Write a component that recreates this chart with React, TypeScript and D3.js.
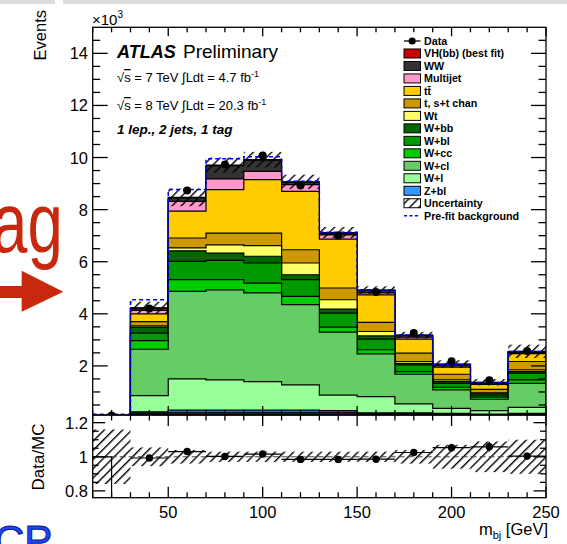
import React from "react";
import * as d3 from "d3";

// bins in m_bj [GeV]; the first bin (10-30) has no MC prediction
const binEdges = [10, 30, 50, 70, 90, 110, 130, 150, 170, 190, 210, 230, 250];

// stacked yields, in units of 10^3 events, bottom to top
const otherBkg = [0, 0.2, 0.22, 0.22, 0.22, 0.22, 0.22, 0.17, 0.17, 0.15, 0.12, 0.15];
const zbl = [0, 0.04, 0.08, 0.08, 0.08, 0.08, 0.06, 0.03, 0.03, 0.03, 0.03, 0.03];
const wl = [0, 0.62, 1.2, 1.16, 1.1, 0.97, 0.6, 0.62, 0.34, 0.19, 0.13, 0.23];
const wcl = [0, 1.78, 3.36, 3.46, 3.4, 3.08, 2.42, 1.64, 1.14, 0.71, 0.44, 0.92];
const wcc = [0, 0.33, 0.45, 0.39, 0.38, 0.32, 0.19, 0.16, 0.1, 0.1, 0.08, 0.13];
const wbl = [0, 0.29, 0.7, 0.74, 0.77, 0.64, 0.54, 0.41, 0.26, 0.15, 0.08, 0.26];
const wbb = [0, 0.23, 0.41, 0.28, 0.26, 0.19, 0.15, 0.12, 0.06, 0.07, 0.07, 0.06];
const wt = [0, 0.05, 0.11, 0.32, 0.41, 0.45, 0.36, 0.17, 0.07, 0.06, 0.02, 0.07];
const singleTop = [0, 0.16, 0.38, 0.45, 0.48, 0.51, 0.45, 0.35, 0.32, 0.22, 0.13, 0.32];
const ttbar = [0, 0.3, 1.03, 1.67, 2.05, 2.24, 1.88, 1.06, 0.54, 0.27, 0.19, 0.3];
const multijet = [0, 0.13, 0.38, 0.41, 0.32, 0.26, 0.16, 0.07, 0.07, 0.05, 0.03, 0.04];
const ww = [0, 0.09, 0.13, 0.51, 0.43, 0.09, 0.07, 0.1, 0.07, 0.06, 0.04, 0.04];
const vhbb = [0, 0.01, 0.02, 0.02, 0.02, 0.02, 0.02, 0.01, 0.01, 0.01, 0.01, 0.01];

const dataYield = [0.1, 4.2, 8.73, 9.73, 10.08, 8.93, 7.01, 4.84, 3.26, 2.18, 1.45, 2.57];
const preFitBkg = [0, 4.54, 8.77, 9.95, 10.03, 9.09, 7.13, 4.92, 3.19, 2.04, 1.36, 2.55];
const relUncertainty = [0.16, 0.055, 0.04, 0.03, 0.03, 0.03, 0.03, 0.03, 0.04, 0.07, 0.09, 0.1];

const processes = [
  { key: "other", values: otherBkg, color: "#222222" },
  { key: "Z+bl", values: zbl, color: "#3399ff" },
  { key: "W+l", values: wl, color: "#99ff99" },
  { key: "W+cl", values: wcl, color: "#66cc66" },
  { key: "W+cc", values: wcc, color: "#00cc00" },
  { key: "W+bl", values: wbl, color: "#009900" },
  { key: "W+bb", values: wbb, color: "#006600" },
  { key: "Wt", values: wt, color: "#ffff66" },
  { key: "t, s+t chan", values: singleTop, color: "#cc9900" },
  { key: "tt\u0304", values: ttbar, color: "#ffcc00" },
  { key: "Multijet", values: multijet, color: "#ff99cc" },
  { key: "WW", values: ww, color: "#333333" },
  { key: "VH(bb) (best fit)", values: vhbb, color: "#cc0000" },
];

const legendOrder = [
  "Data", "VH(bb) (best fit)", "WW", "Multijet", "tt\u0304", "t, s+t chan", "Wt",
  "W+bb", "W+bl", "W+cc", "W+cl", "W+l", "Z+bl", "Uncertainty", "Pre-fit background",
];

const FONT = "'Liberation Sans', Arial, Helvetica, sans-serif";
const L = 92.7, R = 546, T = 27.3, MB = 415, RB = 497.7;

const x = d3.scaleLinear().domain([10, 250]).range([L, R]);
const y = d3.scaleLinear().domain([0.115, 15]).range([MB, T]);
const yr = d3.scaleLinear().domain([0.76, 1.245]).range([RB, MB]);

const nBins = binEdges.length - 1;
const centers = d3.range(nBins).map((i) => (binEdges[i] + binEdges[i + 1]) / 2);
const table = d3.range(nBins).map((i) => {
  const row: Record<string, number> = {};
  processes.forEach((p) => (row[p.key] = p.values[i]));
  return row;
});
const stacked = d3.stack<Record<string, number>>().keys(processes.map((p) => p.key))(table);
const totals = stacked[stacked.length - 1].map((d) => d[1]);

const stepPoints = (vals: number[]) => binEdges.map((e, i) => ({ e, v: vals[Math.min(i, nBins - 1)] }));
const stepArea = d3
  .area<{ e: number; v: number }>()
  .x((d) => x(d.e))
  .y0(y(0))
  .y1((d) => y(d.v))
  .curve(d3.curveStepAfter);
const stepLine = d3
  .line<{ e: number; v: number }>()
  .x((d) => x(d.e))
  .y((d) => y(Math.max(d.v, 0.14)))
  .curve(d3.curveStepAfter);

const yMajor = y.ticks(8);
const yMinor = d3.range(1, 31).map((k) => k * 0.5).filter((v) => v < 15 && !yMajor.includes(v));
const xMajor = x.ticks(5);
const xMinor = d3.range(10, 251, 10).filter((v) => !xMajor.includes(v));
const rMajor = yr.ticks(3);
const rMinor = d3.range(16, 25).map((k) => +(k * 0.05).toFixed(2)).filter((v) => !rMajor.some((m) => Math.abs(m - v) < 1e-6));

const xMajLenOf = (top: number) => (top < MB - 1 ? 9 : 11);
const xMinLenOf = (top: number) => (top < MB - 1 ? 5 : 5.5);

const Frame = ({ top, bottom, xMaj, xMin, yMaj, yMin, ys, yMajLen, yMinLen }: any) => (
  <g stroke="#000" strokeWidth={1.3}>
    <rect x={L} y={top} width={R - L} height={bottom - top} fill="none" />
    {xMaj.map((v: number) => (
      <g key={"xM" + v}>
        <line x1={x(v)} x2={x(v)} y1={bottom} y2={bottom - xMajLenOf(top)} />
        <line x1={x(v)} x2={x(v)} y1={top} y2={top + xMajLenOf(top)} />
      </g>
    ))}
    {xMin.map((v: number) => (
      <g key={"xm" + v}>
        <line x1={x(v)} x2={x(v)} y1={bottom} y2={bottom - xMinLenOf(top)} />
        <line x1={x(v)} x2={x(v)} y1={top} y2={top + xMinLenOf(top)} />
      </g>
    ))}
    {yMaj.map((v: number) => (
      <g key={"yM" + v}>
        <line x1={L} x2={L + yMajLen} y1={ys(v)} y2={ys(v)} />
        <line x1={R} x2={R - yMajLen} y1={ys(v)} y2={ys(v)} />
      </g>
    ))}
    {yMin.map((v: number) => (
      <g key={"ym" + v}>
        <line x1={L} x2={L + yMinLen} y1={ys(v)} y2={ys(v)} />
        <line x1={R} x2={R - yMinLen} y1={ys(v)} y2={ys(v)} />
      </g>
    ))}
  </g>
);

export default function App() {
  const rowY = (i: number) => 41 + i * 12.48;
  const procByKey: Record<string, any> = {};
  processes.forEach((p) => (procByKey[p.key] = p));

  return (
    <svg width={567} height={544} style={{ position: "absolute", left: 0, top: 0, background: "#fff" }} fontFamily={FONT}>
      <defs>
        <pattern id="hatch" patternUnits="userSpaceOnUse" width={6.5} height={6.5} patternTransform="rotate(45)">
          <line x1={0.7} y1={0} x2={0.7} y2={6.5} stroke="#000" strokeWidth={1.4} />
        </pattern>
        <clipPath id="mainClip">
          <rect x={L} y={T} width={R - L} height={MB - T} />
        </clipPath>
        <clipPath id="ratioClip">
          <rect x={L} y={MB} width={R - L} height={RB - MB} />
        </clipPath>
      </defs>

      {/* slide remnants around the figure */}
      <rect x={0} y={0} width={55} height={4} fill="#dcdcdc" />
      <rect x={63} y={0} width={504} height={4} fill="#dcdcdc" />
      <text transform="translate(-8,252) scale(0.74,1)" fontSize={86} fill="#c8290e">ag</text>
      <rect x={0} y={286} width={23} height={12} fill="#c8290e" />
      <polygon points="21.7,270.7 63.3,291.7 21.7,311.7" fill="#c8290e" />
      <text x={-6} y={555} fontSize={42} fill="#1f45ff" stroke="#0a1a80" strokeWidth={1}>CP</text>

      {/* main panel */}
      <g clipPath="url(#mainClip)">
        {stacked
          .slice()
          .reverse()
          .map((layer) => (
            <path
              key={layer.key}
              d={stepArea(stepPoints(layer.map((d) => d[1]))) || ""}
              fill={procByKey[layer.key].color}
              stroke="#000"
              strokeWidth={1.2}
            />
          ))}
        {totals.map((t, i) =>
          t > 0 ? (
            <rect
              key={"unc" + i}
              x={x(binEdges[i])}
              width={x(binEdges[i + 1]) - x(binEdges[i])}
              y={y(t * (1 + relUncertainty[i]))}
              height={y(t * (1 - relUncertainty[i])) - y(t * (1 + relUncertainty[i]))}
              fill="url(#hatch)"
            />
          ) : null
        )}
        <path d={stepLine(stepPoints(preFitBkg)) || ""} fill="none" stroke="#0000ff" strokeWidth={1.5} strokeDasharray="4,3" />
        {dataYield.map((v, i) => (
          <circle key={"d" + i} cx={x(centers[i])} cy={y(v)} r={4} fill="#000" />
        ))}
      </g>
      <Frame top={T} bottom={MB} xMaj={xMajor} xMin={xMinor} yMaj={yMajor} yMin={yMinor} ys={y} yMajLen={15} yMinLen={7.5} />

      <g fontSize={16.5} textAnchor="end">
        {yMajor.map((v) => (
          <text key={"yl" + v} x={88} y={y(v) + 6}>{v}</text>
        ))}
      </g>
      <text x={92} y={25} fontSize={15}>
        ×10<tspan dy={-7} fontSize={10}>3</tspan>
      </text>
      <text transform="translate(46,10) rotate(-90)" textAnchor="end" fontSize={16.5}>Events</text>

      {/* labels */}
      <text x={117} y={58} fontSize={18} fontWeight="bold" fontStyle="italic">ATLAS</text>
      <text x={183} y={58} fontSize={19}>Preliminary</text>
      <text x={117} y={82} fontSize={13}>
        √<tspan style={{ textDecoration: "overline" }}>s</tspan> = 7 TeV ∫Ldt = 4.7 fb<tspan dy={-5} fontSize={9}>-1</tspan>
      </text>
      <text x={117} y={110} fontSize={13}>
        √<tspan style={{ textDecoration: "overline" }}>s</tspan> = 8 TeV ∫Ldt = 20.3 fb<tspan dy={-5} fontSize={9}>-1</tspan>
      </text>
      <text x={117} y={134} fontSize={13.5} fontWeight="bold" fontStyle="italic">1 lep., 2 jets, 1 tag</text>

      {/* legend */}
      <g fontSize={10.7} fontWeight="bold">
        {legendOrder.map((label, i) => {
          const cy = rowY(i);
          let marker;
          if (label === "Data") {
            marker = (
              <g>
                <line x1={404} x2={420.5} y1={cy} y2={cy} stroke="#000" strokeWidth={1.3} />
                <circle cx={412.2} cy={cy} r={3.6} fill="#000" />
              </g>
            );
          } else if (label === "Pre-fit background") {
            marker = <line x1={404} x2={420.5} y1={cy} y2={cy} stroke="#0000ff" strokeWidth={1.5} strokeDasharray="3,2.5" />;
          } else if (label === "Uncertainty") {
            marker = <rect x={404} y={cy - 4.5} width={16.5} height={9} fill="url(#hatch)" stroke="#000" strokeWidth={1} />;
          } else {
            marker = <rect x={404} y={cy - 4.5} width={16.5} height={9} fill={procByKey[label].color} stroke="#000" strokeWidth={1} />;
          }
          return (
            <g key={label}>
              {marker}
              <text x={424} y={cy + 3.9}>{label}</text>
            </g>
          );
        })}
      </g>

      {/* ratio panel */}
      <g clipPath="url(#ratioClip)">
        {totals.map((t, i) => (
          <rect
            key={"ru" + i}
            x={x(binEdges[i])}
            width={x(binEdges[i + 1]) - x(binEdges[i])}
            y={yr(1 + relUncertainty[i])}
            height={yr(1 - relUncertainty[i]) - yr(1 + relUncertainty[i])}
            fill="url(#hatch)"
          />
        ))}
        <line x1={L} x2={R} y1={yr(1)} y2={yr(1)} stroke="#444" strokeWidth={1} strokeDasharray="6,3" />
        {totals.map((t, i) => {
          if (t <= 0) {
            return (
              <g key={"r" + i} stroke="#000" strokeWidth={1.2}>
                <line x1={x(binEdges[i])} x2={x(centers[i])} y1={yr(1)} y2={yr(1)} />
                <line x1={x(centers[i])} x2={x(centers[i])} y1={yr(1)} y2={RB} />
              </g>
            );
          }
          const r = dataYield[i] / t;
          const err = r / Math.sqrt(dataYield[i] * 1000);
          return (
            <g key={"r" + i}>
              <line x1={x(binEdges[i])} x2={x(binEdges[i + 1])} y1={yr(r)} y2={yr(r)} stroke="#000" strokeWidth={1.2} />
              <line x1={x(centers[i])} x2={x(centers[i])} y1={yr(r + err)} y2={yr(r - err)} stroke="#000" strokeWidth={1.2} />
              <circle cx={x(centers[i])} cy={yr(r)} r={3.7} fill="#000" />
            </g>
          );
        })}
      </g>
      <Frame top={MB} bottom={RB} xMaj={xMajor} xMin={xMinor} yMaj={rMajor} yMin={rMinor} ys={yr} yMajLen={12.5} yMinLen={6} />

      <g fontSize={16.5} textAnchor="end">
        {rMajor.map((v) => (
          <text key={"rl" + v} x={88} y={yr(v) + 6}>{String(v)}</text>
        ))}
      </g>
      <g fontSize={16.5} textAnchor="middle">
        {xMajor.map((v) => (
          <text key={"xl" + v} x={x(v)} y={518}>{v}</text>
        ))}
      </g>
      <text transform="translate(44,457) rotate(-90)" textAnchor="middle" fontSize={17}>Data/MC</text>
      <text x={548} y={535} textAnchor="end" fontSize={16.5}>
        m<tspan dy={4} fontSize={11}>bj</tspan>
        <tspan dy={-4}> [GeV]</tspan>
      </text>
    </svg>
  );
}
